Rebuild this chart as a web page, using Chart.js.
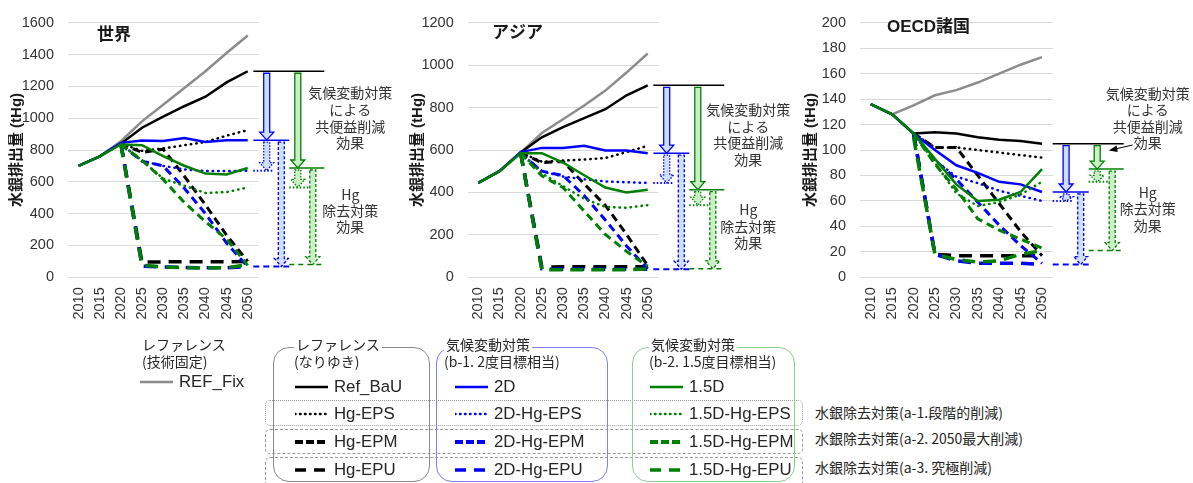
<!DOCTYPE html>
<html lang="ja">
<head>
<meta charset="utf-8">
<title>水銀排出量</title>
<script src="https://cdn.jsdelivr.net/npm/chart.js@4.4.1/dist/chart.umd.min.js"></script>
<style>
  body { margin: 0; width: 1193px; height: 483px; position: relative; overflow: hidden; background: #fff;
         font-family: "Liberation Sans", "Noto Sans CJK JP", sans-serif; color: #262626; }
  canvas { position: absolute; top: 0; }
  .jp { position: absolute; font-family: "Noto Sans CJK JP", sans-serif; font-size: 14px; line-height: 17px; white-space: nowrap; }
  .jp span { background: #fff; padding: 0 2px; }
  .box { position: absolute; box-sizing: border-box; border-radius: 16px; background: transparent; }
  .row { position: absolute; box-sizing: border-box; border-radius: 5px; left: 265px; width: 538px; }
  .item { position: absolute; height: 22px; display: flex; align-items: center; font-size: 16.8px; white-space: nowrap; }
  .item svg { margin-right: 6px; }
</style>
</head>
<body>
<canvas id="c1" width="400" height="335" style="left:0"></canvas>
<canvas id="c2" width="390" height="335" style="left:400px"></canvas>
<canvas id="c3" width="403" height="335" style="left:790px"></canvas>
<div id="legend"></div>
<script>
const years = ['2010', '2015', '2020', '2025', '2030', '2035', '2040', '2045', '2050'];

// 世界
const worldRefFix   = [700, 760, 855, 980, 1085, 1190, 1295, 1410, 1520];
const worldRefBaU   = [700, 760, 840, 940, 1010, 1075, 1135, 1225, 1295];
const worldHgEPS    = [null, null, 840, 795, 810, 830, 850, 890, 925];
const worldHgEPM    = [null, null, 840, 785, 805, 635, 455, 265, 100];
const worldHgEPU    = [null, null, 840, 95, 97, 97, 98, 98, 100];
const world2D       = [700, 760, 845, 860, 856, 876, 850, 862, 862];
const world2DEPS    = [null, null, 840, 730, 700, 678, 668, 668, 670];
const world2DEPM    = [null, null, 835, 730, 700, 560, 400, 215, 65];
const world2DEPU    = [null, null, 840, 70, 65, 62, 60, 60, 68];
const world15D      = [700, 760, 835, 830, 762, 701, 652, 646, 687];
const world15DEPS   = [null, null, 835, 735, 620, 575, 530, 535, 565];
const world15DEPM   = [null, null, 835, 735, 615, 470, 350, 240, 75];
const world15DEPU   = [null, null, 835, 75, 65, 60, 58, 60, 80];

// アジア
const asiaRefFix    = [445, 500, 588, 680, 745, 810, 880, 965, 1055];
const asiaRefBaU    = [445, 500, 588, 660, 708, 750, 792, 858, 905];
const asiaHgEPS     = [null, null, 588, 545, 550, 555, 562, 590, 620];
const asiaHgEPM     = [null, null, 588, 540, 546, 440, 339, 202, 55];
const asiaHgEPU     = [null, null, 588, 48, 50, 50, 50, 50, 50];
const asia2D        = [445, 500, 590, 610, 610, 620, 598, 598, 585];
const asia2DEPS     = [null, null, 585, 500, 475, 462, 452, 448, 445];
const asia2DEPM     = [null, null, 585, 500, 480, 385, 270, 148, 40];
const asia2DEPU     = [null, null, 585, 40, 38, 38, 38, 38, 38];
const asia15D       = [445, 500, 585, 585, 541, 481, 423, 400, 413];
const asia15DEPS    = [null, null, 585, 490, 430, 370, 332, 328, 340];
const asia15DEPM    = [null, null, 585, 478, 423, 312, 202, 122, 52];
const asia15DEPU    = [null, null, 585, 35, 35, 35, 35, 35, 40];

// OECD諸国
const oecdRefFix    = [136, 128, 135, 143, 147, 153, 160, 167, 173];
const oecdRefBaU    = [136, 128, 113, 114, 113, 110, 108, 107, 105];
const oecdHgEPS     = [null, null, 113, 102, 102, 100, 98, 96, 94];
const oecdHgEPM     = [null, null, 113, 102, 102, 80, 58, 36, 17];
const oecdHgEPU     = [null, null, 113, 18, 17, 17, 17, 17, 17];
const oecd2D        = [136, 128, 113, 100, 88, 82, 75, 73, 67];
const oecd2DEPS     = [null, null, 113, 92, 79, 74, 68, 64, 60];
const oecd2DEPM     = [null, null, 113, 92, 77, 59, 41, 25, 11];
const oecd2DEPU     = [null, null, 113, 18, 13, 11, 11, 11, 10];
const oecd15D       = [136, 128, 113, 93, 73, 60, 61, 67, 85];
const oecd15DEPS    = [null, null, 113, 90, 66, 56, 59, 65, 75];
const oecd15DEPM    = [null, null, 113, 89, 69, 46, 37, 30, 23];
const oecd15DEPU    = [null, null, 110, 18, 14, 12, 13, 18, 21];

const BLACK = '#000000', BLUE = '#0000ff', GREEN = '#008000', GRAY = '#8c8c8c';
const LIGHT_BLUE = '#cfe0ff', LIGHT_GREEN = '#cdefc8';

const STYLES = {
  solid: { borderWidth: 2.5, borderDash: [] },
  eps:   { borderWidth: 2.5, borderDash: [0.5, 5], borderCapStyle: 'round' },
  epm:   { borderWidth: 3, borderDash: [8, 5] },
  epu:   { borderWidth: 3.5, borderDash: [13, 8] }
};

function buildDatasets(s) {
  const ds = (label, data, color, style, order) => Object.assign({
    label, data, borderColor: color, pointRadius: 0, fill: false, tension: 0, order, borderCapStyle: 'butt'
  }, STYLES[style]);
  return [
    ds('1.5D', s.d15, GREEN, 'solid', 1),
    ds('1.5D-Hg-EPS', s.d15eps, GREEN, 'eps', 2),
    ds('1.5D-Hg-EPM', s.d15epm, GREEN, 'epm', 3),
    ds('1.5D-Hg-EPU', s.d15epu, GREEN, 'epu', 4),
    ds('2D', s.d2, BLUE, 'solid', 5),
    ds('2D-Hg-EPS', s.d2eps, BLUE, 'eps', 6),
    ds('2D-Hg-EPM', s.d2epm, BLUE, 'epm', 7),
    ds('2D-Hg-EPU', s.d2epu, BLUE, 'epu', 8),
    ds('Ref_BaU', s.bau, BLACK, 'solid', 9),
    ds('Hg-EPS', s.eps, BLACK, 'eps', 10),
    ds('Hg-EPM', s.epm, BLACK, 'epm', 11),
    ds('Hg-EPU', s.epu, BLACK, 'epu', 12),
    ds('REF_Fix', s.refFix, GRAY, 'solid', 13)
  ];
}

function hline(ctx, x1, x2, y, color, dash, w) {
  ctx.save();
  ctx.beginPath();
  ctx.setLineDash(dash);
  ctx.lineWidth = w;
  ctx.strokeStyle = color;
  ctx.moveTo(x1, y);
  ctx.lineTo(x2, y);
  ctx.stroke();
  ctx.restore();
}

function hollowArrow(ctx, x, y1, y2, stroke, fill, dash) {
  if (y2 - y1 < 3) return;
  const head = Math.min(8, (y2 - y1) * 0.6);
  ctx.save();
  ctx.beginPath();
  ctx.moveTo(x - 3, y1);
  ctx.lineTo(x + 3, y1);
  ctx.lineTo(x + 3, y2 - head);
  ctx.lineTo(x + 7, y2 - head);
  ctx.lineTo(x, y2);
  ctx.lineTo(x - 7, y2 - head);
  ctx.lineTo(x - 3, y2 - head);
  ctx.closePath();
  ctx.fillStyle = fill;
  ctx.fill();
  ctx.setLineDash(dash);
  ctx.lineWidth = 1.3;
  ctx.strokeStyle = stroke;
  ctx.stroke();
  ctx.restore();
}

// 右側の矢印と注記 (2050年の値から描く)
function effectsPlugin(p) {
  const last = a => a[a.length - 1];
  return {
    id: 'effects',
    afterDraw(chart) {
      const { ctx, chartArea: a, scales: { y } } = chart;
      const s = p.s;
      const Y = v => y.getPixelForValue(v);
      const r = a.right + p.dx;
      const yB = Y(last(s.bau));
      const y2 = Y(last(s.d2)), y2s = Y(last(s.d2eps)), y2u = Y(last(s.d2epu));
      const y15 = Y(last(s.d15)), y15s = Y(last(s.d15eps)), y15u = Y(last(s.d15epu));

      hline(ctx, r, r + 71, yB, BLACK, [], 1.5);
      hline(ctx, r, r + 36, y2, BLUE, [], 1.5);
      hline(ctx, r + 36, r + 71, y15, GREEN, [], 1.5);
      hline(ctx, r, r + 19, y2s, BLUE, [1.5, 2], 2);
      hline(ctx, r, r + 36, y2u, BLUE, [6, 4], 2);
      hline(ctx, r + 36, r + 60, y15s, GREEN, [1.5, 2], 2);
      hline(ctx, r + 36, r + 71, y15u, GREEN, [5, 4], 1.5);

      hollowArrow(ctx, r + 13.4, yB + 2, y2, BLUE, LIGHT_BLUE, []);
      hollowArrow(ctx, r + 13.4, y2 + 2, y2s, BLUE, LIGHT_BLUE, [1.5, 1.5]);
      hollowArrow(ctx, r + 28, y2 + 2, y2u, BLUE, LIGHT_BLUE, [3, 2]);
      hollowArrow(ctx, r + 44.5, yB + 2, y15, GREEN, LIGHT_GREEN, []);
      hollowArrow(ctx, r + 44.5, y15 + 2, y15s, GREEN, LIGHT_GREEN, [1.5, 1.5]);
      hollowArrow(ctx, r + 59.5, y15 + 2, y15u, GREEN, LIGHT_GREEN, [3, 2]);

      ctx.save();
      ctx.fillStyle = '#333';
      ctx.textAlign = 'center';
      ctx.textBaseline = 'middle';
      ctx.font = '14px "Noto Sans CJK JP", sans-serif';
      const cx = a.right + p.noteX;
      ['気候変動対策', 'による', '共便益削減', '効果'].forEach((t, i) => ctx.fillText(t, cx, p.noteY1[i]));
      ['Hg', '除去対策', '効果'].forEach((t, i) => ctx.fillText(t, cx, p.noteY2[i]));

      if (p.pointer) {
        const x1 = a.right + 80, py1 = 145, x2 = a.right + 56, py2 = 150.5;
        ctx.strokeStyle = '#000';
        ctx.lineWidth = 1;
        ctx.beginPath();
        ctx.moveTo(x1, py1);
        ctx.lineTo(x2 + 5, py2 - 1.2);
        ctx.stroke();
        ctx.fillStyle = '#000';
        ctx.beginPath();
        ctx.moveTo(x2, py2);
        ctx.lineTo(x2 + 8, py2 - 5);
        ctx.lineTo(x2 + 9, py2 + 1.5);
        ctx.closePath();
        ctx.fill();
      }

      ctx.fillStyle = '#1a1a1a';
      ctx.textAlign = 'left';
      ctx.font = 'bold 17px "Liberation Sans", "Noto Sans CJK JP", sans-serif';
      ctx.fillText(p.title, p.titleX, p.titleY);
      ctx.restore();
    }
  };
}

const panels = [
  { id: 'c1', title: '世界', titleX: 97, titleY: 35, max: 1600, step: 200, yWidth: 68, padRight: 141.7,
    titlePad: 8, dx: -5, noteX: 92, noteY1: [93, 110, 127, 143], noteY2: [195, 211, 227], pointer: false,
    s: { refFix: worldRefFix, bau: worldRefBaU, eps: worldHgEPS, epm: worldHgEPM, epu: worldHgEPU,
         d2: world2D, d2eps: world2DEPS, d2epm: world2DEPM, d2epu: world2DEPU,
         d15: world15D, d15eps: world15DEPS, d15epm: world15DEPM, d15epu: world15DEPU } },
  { id: 'c2', title: 'アジア', titleX: 92, titleY: 33, max: 1200, step: 200, yWidth: 67.7, padRight: 131.7,
    titlePad: 8.5, dx: -5, noteX: 90, noteY1: [110, 127, 143, 160], noteY2: [210, 227, 243], pointer: false,
    s: { refFix: asiaRefFix, bau: asiaRefBaU, eps: asiaHgEPS, epm: asiaHgEPM, epu: asiaHgEPU,
         d2: asia2D, d2eps: asia2DEPS, d2epm: asia2DEPM, d2epu: asia2DEPU,
         d15: asia15D, d15eps: asia15DEPS, d15epm: asia15DEPM, d15epu: asia15DEPU } },
  { id: 'c3', title: 'OECD諸国', titleX: 97, titleY: 27, max: 200, step: 20, yWidth: 70, padRight: 140.3,
    titlePad: 11.5, dx: 0, noteX: 95, noteY1: [94, 110, 127, 143], noteY2: [193, 209, 226], pointer: true,
    s: { refFix: oecdRefFix, bau: oecdRefBaU, eps: oecdHgEPS, epm: oecdHgEPM, epu: oecdHgEPU,
         d2: oecd2D, d2eps: oecd2DEPS, d2epm: oecd2DEPM, d2epu: oecd2DEPU,
         d15: oecd15D, d15eps: oecd15DEPS, d15epm: oecd15DEPM, d15epu: oecd15DEPU } }
];

const tickFont = { family: '"Liberation Sans", Arial, sans-serif', size: 14.5 };

panels.forEach(p => {
  new Chart(document.getElementById(p.id).getContext('2d'), {
    type: 'line',
    data: { labels: years, datasets: buildDatasets(p.s) },
    options: {
      responsive: false,
      animation: false,
      devicePixelRatio: 1,
      layout: { padding: { top: 15.7, right: p.padRight, left: 0, bottom: 0 } },
      plugins: { legend: { display: false }, tooltip: { enabled: false } },
      scales: {
        x: {
          offset: true,
          grid: { display: false, drawTicks: false },
          border: { display: false },
          ticks: { color: '#333', font: tickFont, autoSkip: false, maxRotation: 90, minRotation: 90, padding: 10 },
          afterFit: s => { s.height = 335 - 277.3; }
        },
        y: {
          min: 0, max: p.max,
          grid: { color: '#d9d9d9', lineWidth: 1, drawTicks: false },
          border: { display: false },
          ticks: { stepSize: p.step, color: '#333', font: tickFont, padding: 14, callback: v => v },
          title: { display: true, text: '水銀排出量 (tHg)', color: '#1a1a1a',
                   font: { family: '"Liberation Sans", "Noto Sans CJK JP", sans-serif', size: 15, weight: 'bold' },
                   padding: { top: p.titlePad, bottom: 0 } },
          afterFit: s => { s.width = p.yWidth; }
        }
      }
    },
    plugins: [effectsPlugin(p)]
  });
});

// 凡例
const legend = document.getElementById('legend');
const DASH_SVG = {
  solid: '',
  eps: 'stroke-dasharray="0.5 4.5" stroke-linecap="round"',
  epm: 'stroke-dasharray="8 3"',
  epu: 'stroke-dasharray="11 8"'
};
const SVG_W = { solid: 2.5, eps: 2.5, epm: 4, epu: 3.5 };

function add(html) { legend.insertAdjacentHTML('beforeend', html); }
function sample(color, style) {
  return `<svg width="33" height="8"><line x1="0" y1="4" x2="33" y2="4" stroke="${color}" stroke-width="${SVG_W[style]}" ${DASH_SVG[style]}/></svg>`;
}
function item(x, cy, color, style, name) {
  add(`<div class="item" style="left:${x}px;top:${cy - 11}px">${sample(color, style)}<span>${name}</span></div>`);
}

// row frames
add('<div class="row" style="top:400px;height:26px;border:1px dotted #9a9a9a"></div>');
add('<div class="row" style="top:429px;height:25px;border:1px dashed #9a9a9a"></div>');
add('<div class="row" style="top:457px;height:32px;border:1px dashed #9a9a9a"></div>');

// group frames
add('<div class="box" style="left:273px;top:347px;width:157px;height:135px;border:1px solid #8a8a8a"></div>');
add('<div class="box" style="left:436px;top:347px;width:172px;height:135px;border:1px solid #7f7fff"></div>');
add('<div class="box" style="left:632px;top:347px;width:163px;height:135px;border:1px solid #90cc90"></div>');

add('<div class="jp" style="left:142px;top:336px">レファレンス<br>(技術固定)</div>');
add('<div class="jp" style="left:294px;top:336px"><span>レファレンス</span><br>(なりゆき)</div>');
add('<div class="jp" style="left:444px;top:336px"><span>気候変動対策</span><br>(b-1. 2度目標相当)</div>');
add('<div class="jp" style="left:649px;top:336px"><span>気候変動対策</span><br>(b-2. 1.5度目標相当)</div>');

item(140, 382, GRAY, 'solid', 'REF_Fix');

const rowY = [387, 414, 442, 470];
const rowStyles = ['solid', 'eps', 'epm', 'epu'];
const groups = [
  { x: 295, color: BLACK, names: ['Ref_BaU', 'Hg-EPS', 'Hg-EPM', 'Hg-EPU'] },
  { x: 455, color: BLUE, names: ['2D', '2D-Hg-EPS', '2D-Hg-EPM', '2D-Hg-EPU'] },
  { x: 650, color: GREEN, names: ['1.5D', '1.5D-Hg-EPS', '1.5D-Hg-EPM', '1.5D-Hg-EPU'] }
];
groups.forEach(g => g.names.forEach((n, i) => item(g.x, rowY[i], g.color, rowStyles[i], n)));

const measureLabels = ['水銀除去対策(a-1.段階的削減)', '水銀除去対策(a-2. 2050最大削減)', '水銀除去対策(a-3. 究極削減)'];
const measureY = [412, 438, 467];
measureLabels.forEach((t, i) => add(`<div class="jp" style="left:815px;top:${measureY[i] - 8.5}px">${t}</div>`));
</script>
</body>
</html>
